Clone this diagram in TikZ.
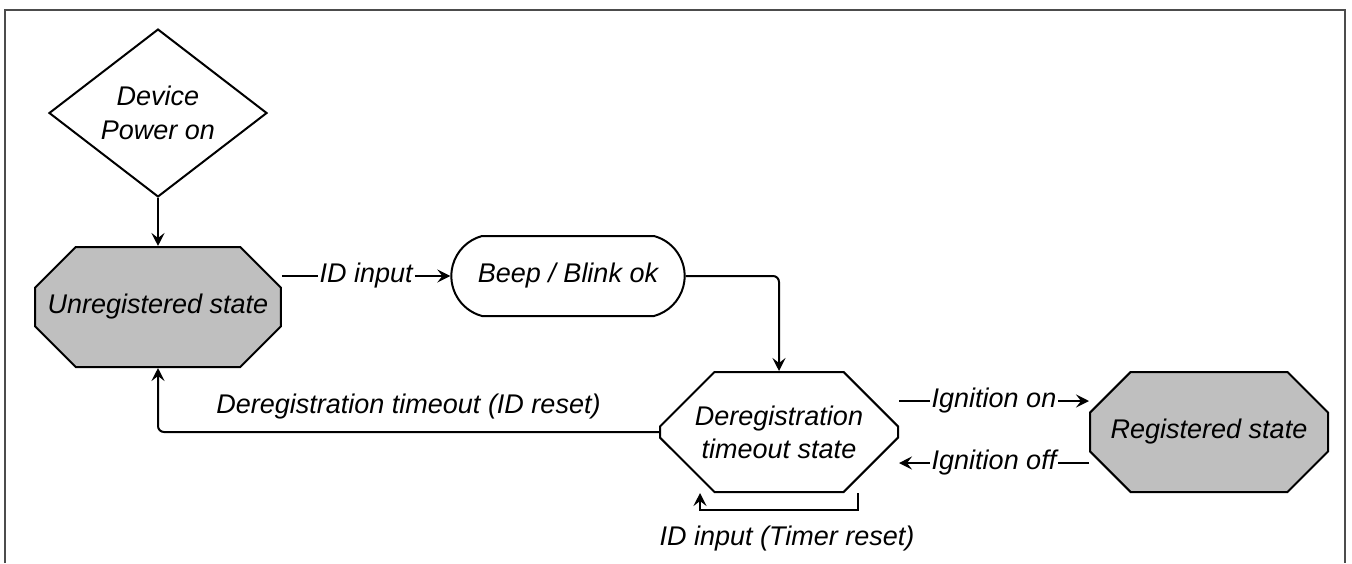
\documentclass[tikz,border=0pt]{standalone}
\usepackage{fontspec}
\setmainfont{Liberation Sans}
\usetikzlibrary{shapes.geometric,shapes.misc,arrows.meta}

\begin{document}
\begin{tikzpicture}[x=1pt,y=-1pt,line width=2pt,
  every node/.style={font=\itshape\fontsize{27}{33}\selectfont},
  state/.style={draw,chamfered rectangle,chamfered rectangle xsep=40pt,
    chamfered rectangle ysep=28pt,minimum width=238pt,minimum height=120pt,
    inner sep=0pt,align=center},
  gstate/.style={state,fill=black!25},
  wstate/.style={state,fill=white},
  arr/.style={-{Stealth[length=13pt,width=13pt,inset=5pt]}},
  lbl/.style={fill=white,inner sep=2pt}]

\useasboundingbox (0,0) rectangle (1352,563);
\draw[black!70,line width=2pt] (5,563) -- (5,10) -- (1345,10) -- (1345,563);

\node[draw,diamond,minimum width=218pt,minimum height=160pt,inner sep=0pt,align=center] at (158,113) (P) {Device\\[1pt]Power on};
\node[gstate] at (158,307) (U) {Unregistered state};
\node[draw,rounded rectangle,rounded rectangle arc length=150,minimum width=240pt,minimum height=80pt] at (568,276) (B) {Beep / Blink ok};
\node[wstate] at (779,432) (D) {Deregistration\\timeout state};
\node[gstate] at (1209,432) (R) {Registered state};

\draw[arr] (P) -- (U);
\draw[arr] (U.east |- B.west) -- node[lbl] {ID input} (B.west);
\draw[arr,rounded corners=6pt] (B.east) -| (D.north);

%%%%%%%%%%%%%%%%%%%%%%%%%%%%%%%%%%%%%%
\draw[arr,rounded corners=6pt] (D.west) -| node[pos=0.25,above=9pt] {Deregistration timeout (ID reset)} (U.south);

\draw[arr] ([yshift=31pt]D.east) -- node[lbl] {Ignition on} ([yshift=31pt]R.west);
\draw[arr] ([yshift=-31pt]R.west) -- node[lbl] {Ignition off} ([yshift=-31pt]D.east);

\draw[arr] ([xshift=79pt]D.south) -- ++(0,17) -| ([xshift=-79pt]D.south);
\node[below] at ([xshift=8pt,yshift=-29pt]D.south) (T) {ID input (Timer reset)};

\end{tikzpicture}
\end{document}
